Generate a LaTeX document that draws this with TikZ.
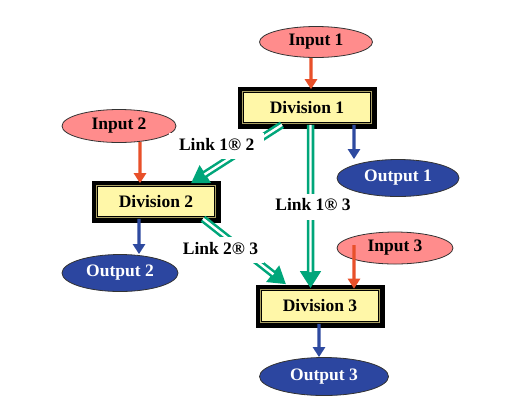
\documentclass[tikz,border=0pt]{standalone}
\usepackage{fontspec}
\setmainfont{Liberation Serif}
\usetikzlibrary{arrows.meta,shapes.geometric}
\definecolor{pinkfill}{RGB}{255,140,140}
\definecolor{bluefill}{RGB}{44,70,160}
\definecolor{redarrow}{RGB}{232,80,42}
\definecolor{bluearrow}{RGB}{46,74,160}
\definecolor{greenarrow}{RGB}{0,166,122}
\definecolor{yellowfill}{RGB}{255,247,168}
\definecolor{framegold}{RGB}{170,160,100}
\begin{document}
\begin{tikzpicture}[x=1bp,y=-1bp,
  font=\fontsize{17.5bp}{20bp}\selectfont\bfseries,
  inbox/.style={ellipse, draw=black!80, line width=0.8bp, fill=pinkfill, inner sep=0pt, text=black},
  outbox/.style={ellipse, draw=black!80, line width=0.8bp, fill=bluefill, inner sep=0pt, text=white},
  divbox/.style={rectangle, fill=yellowfill, draw=black, line width=1.6bp, inner sep=0pt,
    minimum height=30bp,
    preaction={draw=black, line width=12bp},
    preaction={draw=framegold, line width=3.4bp}},
  redarr/.style={draw=redarrow, line width=3.4bp, -{Triangle[length=10bp,width=12bp]}},
  bluearr/.style={draw=bluearrow, line width=3.4bp, -{Triangle[length=10bp,width=12bp]}},
  greenarr/.style={draw=greenarrow, line width=7.5bp, -{Triangle[length=17bp,width=20bp]},
    postaction={draw=white, line width=2.4bp, shorten >=16bp, -}},
  linklabel/.style={fill=white, text height=12.5bp, text depth=4.5bp, inner xsep=6bp, inner ysep=4.5bp, anchor=base}
]
\useasboundingbox (0,0) rectangle (507,404);

% nodes
\node[inbox, minimum width=113bp, minimum height=31bp] (in1) at (316,42) {Input 1};
\node[divbox, minimum width=127bp] (div1) at (307,107.5) {Division 1};
\node[outbox, minimum width=122bp, minimum height=37bp] (out1) at (398,178) {Output 1};
\node[inbox, minimum width=114bp, minimum height=33bp] (in2) at (119,126) {Input 2};
\node[divbox, minimum width=117bp] (div2) at (156,201.5) {Division 2};
\node[outbox, minimum width=116bp, minimum height=37bp] (out2) at (120,273) {Output 2};
\node[inbox, minimum width=116bp, minimum height=32bp] (in3) at (395,248) {Input 3};
\node[divbox, minimum width=117bp, minimum height=31bp] (div3) at (320,306) {Division 3};
\node[outbox, minimum width=129bp, minimum height=38bp] (out3) at (324,376.5) {Output 3};

% input arrows
\draw[redarr] ([xshift=-5bp]in1.south) -- ([xshift=4bp,yshift=2.5bp]div1.north);
\draw[redarr] ([xshift=21bp,yshift=1bp]in2.south) -- ([xshift=-16bp,yshift=2.5bp]div2.north);
\draw[redarr] ([xshift=-41bp,yshift=3bp]in3.center) -- ([xshift=34bp,yshift=1bp]div3.north);

% output arrows
\draw[bluearr] ([xshift=47bp,yshift=-1.5bp]div1.south) -- ([xshift=-44bp]out1.north);
\draw[bluearr] ([xshift=-17bp,yshift=-1.5bp]div2.south) -- ([xshift=19bp]out2.north);
\draw[bluearr] ([xshift=-1bp,yshift=-1.5bp]div3.south) -- ([xshift=-5bp]out3.north);

% links
\draw[greenarr] ([xshift=3.5bp,yshift=-1.5bp]div1.south) -- ([xshift=-9.5bp,yshift=1.5bp]div3.north);
\draw[greenarr] ([xshift=-25bp,yshift=-1.5bp]div1.south) -- ([xshift=35bp,yshift=2.5bp]div2.north);
\draw[greenarr] ([xshift=47bp,yshift=-1.5bp]div2.south) -- ([xshift=-34bp,yshift=5.5bp]div3.north);

% link labels
\node[linklabel, inner xsep=10bp] (l12) at (216.7,150) {Link 1® 2};
\node[linklabel] (l13) at (313,210.7) {Link 1® 3};
\node[linklabel] (l23) at (220.5,254) {Link 2® 3};
\end{tikzpicture}
\end{document}
